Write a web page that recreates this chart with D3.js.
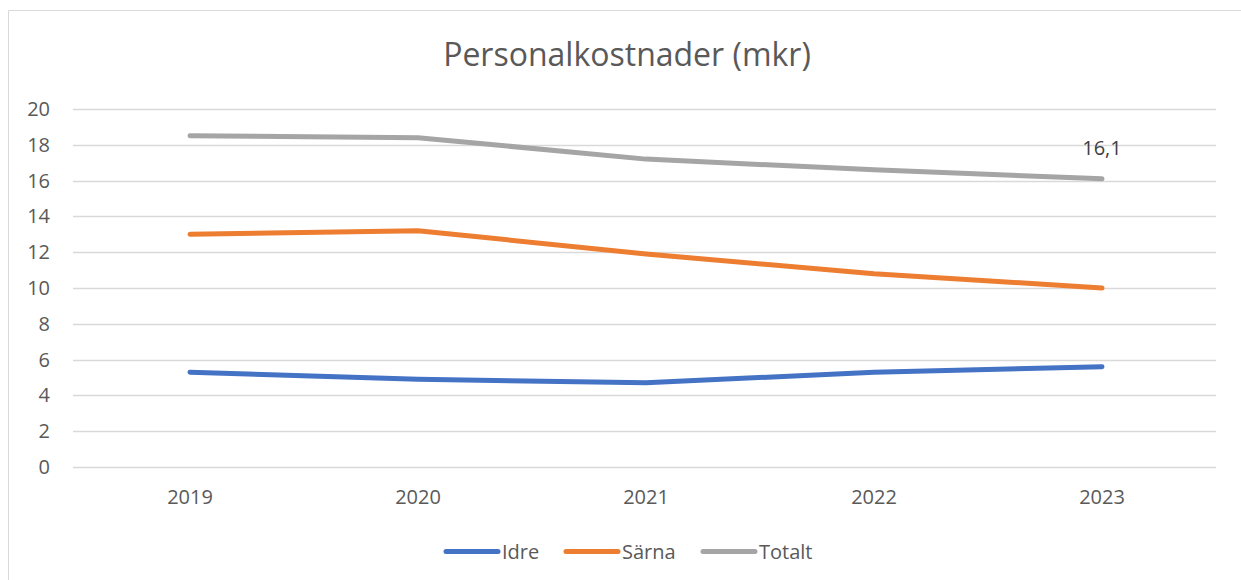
<!DOCTYPE html>
<html>
<head>
<meta charset="utf-8">
<script src="https://cdn.jsdelivr.net/npm/d3@7"></script>
<style>
  body { margin: 0; background: #fff; }
  svg { display: block; font-family: "Open Sans", "Noto Sans", sans-serif; }
</style>
</head>
<body>
<svg id="main" width="1241" height="580"></svg>
<script>
// data
const years = ['2019', '2020', '2021', '2022', '2023'];
const idre = [5.3, 4.9, 4.7, 5.3, 5.6];
const sarna = [13.0, 13.2, 11.9, 10.8, 10.0];
const totalt = [18.5, 18.4, 17.2, 16.6, 16.1];
const seriesNames = ['Idre', 'Särna', 'Totalt'];
const yTicks = [0, 2, 4, 6, 8, 10, 12, 14, 16, 18, 20];

main();

function main() {
	const colors = ['#4472C4', '#ED7D31', '#A5A5A5'];
	const series = [idre, sarna, totalt];
	const textCol = '#595959';

	let svg = d3.select('#main');

	// outer chart frame (only top & left edges visible in the crop)
	svg.append('path')
		.attr('d', 'M8.5,580 V10.5 H1241')
		.attr('fill', 'none')
		.attr('stroke', '#d9d9d9')
		.attr('stroke-width', 1);

	let margin = { left: 76, right: 1216, top: 109, bottom: 467 };

	let x = d3.scaleBand()
		.domain(years)
		.range([margin.left, margin.right]);

	let y = d3.scaleLinear()
		.domain([0, 20])
		.range([margin.bottom, margin.top]);

	// gridlines
	svg.append('g')
		.selectAll('line')
		.data(yTicks)
		.enter()
		.append('line')
		.attr('x1', margin.left - 3)
		.attr('x2', margin.right)
		.attr('y1', d => Math.round(y(d)) + 0.5)
		.attr('y2', d => Math.round(y(d)) + 0.5)
		.attr('stroke', '#d9d9d9')
		.attr('stroke-width', 1.5);

	// y axis labels
	let yAxis = svg.append('g')
		.attr('transform', `translate(${margin.left - 26},0)`)
		.call(d3.axisLeft(y).tickValues(yTicks).tickSize(0).tickPadding(0));
	yAxis.select('.domain').remove();
	yAxis.selectAll('text')
		.attr('fill', textCol)
		.style('font-size', '20px')
		.style('font-family', '"Open Sans", sans-serif');

	// x axis labels
	let xAxis = svg.append('g')
		.attr('transform', `translate(0,${margin.bottom + 23})`)
		.call(d3.axisBottom(x).tickSize(0).tickPadding(0));
	xAxis.select('.domain').remove();
	xAxis.selectAll('text')
		.attr('fill', textCol)
		.style('font-size', '20px')
		.style('font-family', '"Open Sans", sans-serif');

	// lines
	let line = d3.line()
		.x((d, i) => x(years[i]) + x.bandwidth() / 2)
		.y(d => y(d));

	svg.append('g')
		.selectAll('.line')
		.data(series)
		.enter()
		.append('path')
		.attr('class', 'line')
		.attr('d', d => line(d))
		.attr('fill', 'none')
		.attr('stroke', (d, i) => colors[i])
		.attr('stroke-width', 5)
		.attr('stroke-linecap', 'round')
		.attr('stroke-linejoin', 'round');

	// data label on last Totalt point
	let last = totalt.length - 1;
	svg.append('text')
		.attr('x', x(years[last]) + x.bandwidth() / 2)
		.attr('y', y(totalt[last]) - 24)
		.attr('text-anchor', 'middle')
		.attr('fill', '#404040')
		.style('font-size', '20px')
		.text(d3.format('.1f')(totalt[last]).replace('.', ','));

	// title
	svg.append('text')
		.attr('x', 627)
		.attr('y', 66)
		.attr('text-anchor', 'middle')
		.attr('fill', textCol)
		.style('font-size', '32px')
		.text('Personalkostnader (mkr)');

	// legend
	let legendX = [444, 564, 701];
	let legend = svg.append('g')
		.selectAll('g')
		.data(seriesNames)
		.enter()
		.append('g')
		.attr('transform', (d, i) => `translate(${legendX[i]},551.5)`);
	legend.append('line')
		.attr('x1', 2).attr('x2', 54)
		.attr('y1', 0).attr('y2', 0)
		.attr('stroke', (d, i) => colors[i])
		.attr('stroke-width', 5)
		.attr('stroke-linecap', 'round');
	legend.append('text')
		.attr('x', 58)
		.attr('y', 0)
		.attr('dy', '0.35em')
		.attr('fill', textCol)
		.style('font-size', '20px')
		.text(d => d);
}
</script>
</body>
</html>
